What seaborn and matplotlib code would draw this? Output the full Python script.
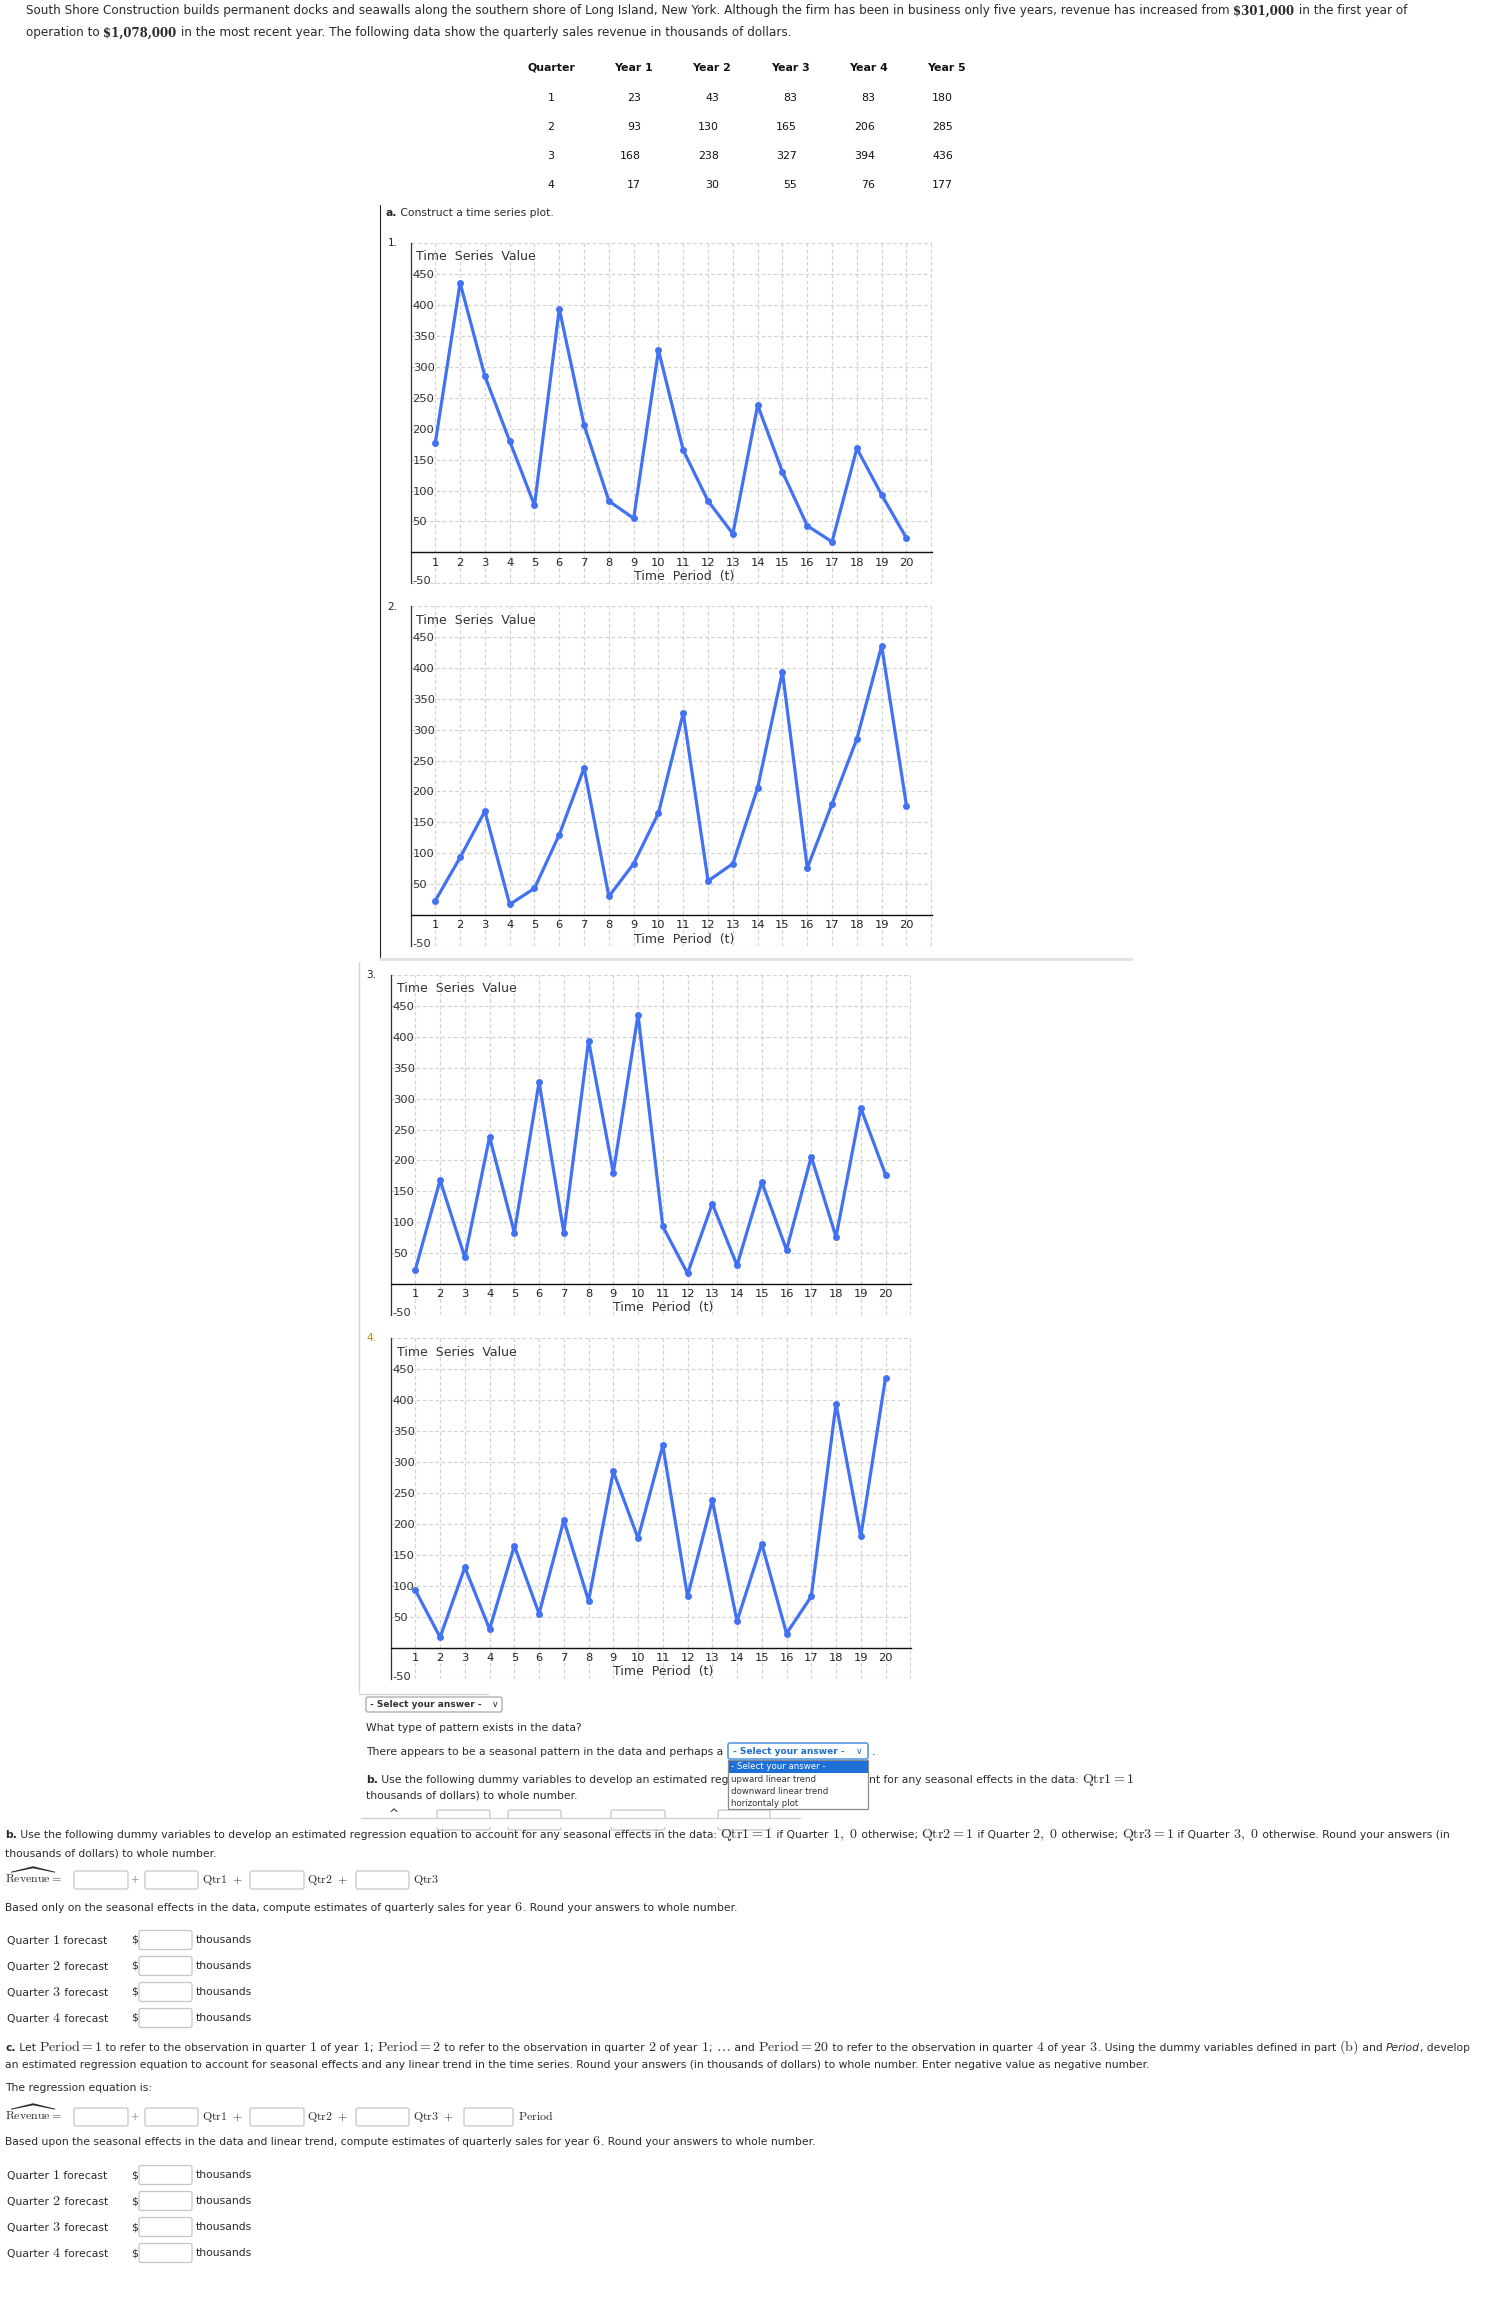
import numpy as np
import pandas as pd
import matplotlib
matplotlib.use("Agg")
import matplotlib.pyplot as plt
import seaborn as sns
from matplotlib.patches import FancyBboxPatch, Rectangle
from matplotlib.ticker import MultipleLocator, FixedLocator
from matplotlib.transforms import ScaledTranslation

# ---------------- data ----------------
quarters = [1, 2, 3, 4]
year_labels = ["Year 1", "Year 2", "Year 3", "Year 4", "Year 5"]
year1 = [23, 93, 168, 17]
year2 = [43, 130, 238, 30]
year3 = [83, 165, 327, 55]
year4 = [83, 206, 394, 76]
year5 = [180, 285, 436, 177]

periods = list(range(1, 21))
plot1_values = [177, 436, 285, 180, 76, 394, 206, 83, 55, 327, 165, 83, 30, 238, 130, 43, 17, 168, 93, 23]
plot2_values = [23, 93, 168, 17, 43, 130, 238, 30, 83, 165, 327, 55, 83, 206, 394, 76, 180, 285, 436, 177]
plot3_values = [23, 168, 43, 238, 83, 327, 83, 394, 180, 436, 93, 17, 130, 30, 165, 55, 206, 76, 285, 177]
plot4_values = [93, 17, 130, 30, 165, 55, 206, 76, 285, 177, 327, 83, 238, 43, 168, 23, 83, 394, 180, 436]

y_ticks = [-50, 0, 50, 100, 150, 200, 250, 300, 350, 400, 450, 500]
y_tick_labels = ["-50", "", "50", "100", "150", "200", "250", "300", "350", "400", "450", ""]
x_ticks = list(range(1, 22))
x_tick_labels = [str(i) for i in range(1, 21)] + [""]

dropdown_options = ["- Select your answer -", "upward linear trend", "downward linear trend", "horizontaly plot"]

# ---------------- setup ----------------
sns.set_style("white")
plt.rcParams["font.family"] = ["DejaVu Sans"]
plt.rcParams["mathtext.fontset"] = "cm"

W, H = 1490, 2297
fig = plt.figure(figsize=(W / 100, H / 100), dpi=100)
fig.patch.set_facecolor("white")
page = fig.add_axes([0, 0, 1, 1])
page.set_xlim(0, W)
page.set_ylim(H, 0)
page.axis("off")
renderer = fig.canvas.get_renderer()

BLUE = "#4271f2"
TXT = "#2a2a2a"
PT = 0.72  # px -> pt


def px_rect(l, t, r, b):
    return [l / W, 1 - b / H, (r - l) / W, (b - t) / H]


def text_w(s, kw):
    t = page.text(0, 0, s, **kw)
    w = t.get_window_extent(renderer).width
    t.remove()
    return w


def adv(s, kw):
    if s.startswith("$"):
        return text_w(s, kw)
    return text_w("|" + s + "|", kw) - text_w("||", kw)


MATHSCALE = 1.3


def runs(x, yc, parts, px, color=TXT):
    yb = yc + 0.36 * px
    cur = x
    for part in parts:
        if isinstance(part, str):
            s, st = part, ""
        else:
            s = part[0]
            st = part[1] if len(part) > 1 else ""
        kw = dict(fontsize=px * PT, color=color, ha="left", va="baseline")
        if "b" in st:
            kw["fontweight"] = "bold"
        if "i" in st:
            kw["fontstyle"] = "italic"
        if "s" in st:
            kw["family"] = "DejaVu Serif"
            kw["fontsize"] = px * PT * 0.98
        if "m" in st:
            kw["math_fontfamily"] = "cm"
            kw["fontsize"] = px * PT * MATHSCALE
        page.text(cur, yb, s, **kw)
        cur += adv(s, kw)
    return cur


def T(x, y, s, px, ha="left", va="center", color=TXT, weight="normal", z=4, **kw):
    return page.text(x, y, s, fontsize=px * PT, ha=ha, va=va, color=color,
                     fontweight=weight, zorder=z, **kw)


def box(l, t, r, b, ec="#c6c6c6", lw=0.9, fc="white", z=3, rs=2):
    page.add_patch(FancyBboxPatch((l, t), r - l, b - t,
                                  boxstyle=f"round,pad=0,rounding_size={rs}",
                                  fc=fc, ec=ec, lw=lw, zorder=z))


# ---------------- top paragraph ----------------
P1 = 12.0
runs(26, 10, ["South Shore Construction builds permanent docks and seawalls along the southern shore of Long Island, New York. Although the firm has been in business only five years, revenue has increased from ",
              ("$301,000", "sb"),
              " in the first year of"], P1)
runs(26, 32, ["operation to ", ("$1,078,000", "sb"),
              " in the most recent year. The following data show the quarterly sales revenue in thousands of dollars."], P1)

# ---------------- table ----------------
head_y = 68
row_y = [98, 127, 156, 185]
q_x = 551
head_x = [633, 712, 790, 868, 946]
right_x = [641, 719, 797, 875, 953]
T(q_x, head_y, "Quarter", 11, ha="center", weight="bold", color="#111")
for hx, lab in zip(head_x, year_labels):
    T(hx, head_y, lab, 11, ha="center", weight="bold", color="#111")
cols = [year1, year2, year3, year4, year5]
for i, q in enumerate(quarters):
    T(q_x, row_y[i], str(q), 11, ha="center", color="#111")
    for j, col in enumerate(cols):
        T(right_x[j], row_y[i], str(col[i]), 11, ha="right", color="#111")

# ---------------- part a heading ----------------
BP = 10.8
runs(386, 212, [("a.", "b"), " Construct a time series plot."], BP)

# overlay borders
page.plot([380, 380], [205, 957], color="#222222", lw=0.8, zorder=2)
page.plot([380, 1131], [958.5, 958.5], color="#e2e2e2", lw=2.2, zorder=2)
page.plot([359, 359], [962, 1692], color="#d6d6d6", lw=1.0, zorder=2)
page.plot([359, 488], [1694, 1694], color="#d6d6d6", lw=1.0, zorder=2)


# ---------------- plots ----------------
def make_plot(rect, values, num, num_xy, num_color):
    ax = fig.add_axes(px_rect(*rect))
    ax.set_facecolor("white")
    df = pd.DataFrame({"t": periods, "v": values})
    sns.lineplot(data=df, x="t", y="v", ax=ax, color=BLUE, linewidth=2.3,
                 marker="o", markersize=5, markeredgewidth=0, zorder=5)
    ax.set_xlim(0, 21.03)
    ax.set_ylim(-50.4, 500.4)
    ax.set_xlabel("")
    ax.set_ylabel("")
    ax.xaxis.set_major_locator(FixedLocator(x_ticks))
    ax.set_xticklabels(x_tick_labels)
    ax.xaxis.set_minor_locator(MultipleLocator(0.1))
    ax.yaxis.set_major_locator(FixedLocator(y_ticks))
    ax.set_yticklabels(y_tick_labels)
    ax.yaxis.set_minor_locator(MultipleLocator(10))
    ax.grid(True, which="major", color="#d3d3d3", linestyle=(0, (3, 2)), linewidth=0.9)
    ax.set_axisbelow(True)
    for s in ["top", "right"]:
        ax.spines[s].set_visible(False)
    ax.spines["bottom"].set_position(("data", 0))
    ax.spines["bottom"].set_color("#111111")
    ax.spines["bottom"].set_linewidth(1.0)
    ax.spines["left"].set_color("#333333")
    ax.spines["left"].set_linewidth(0.9)
    ax.tick_params(axis="x", which="major", direction="inout", length=5.5, width=0.8,
                   color="#111111", pad=1.0, labelsize=11.5 * PT, labelcolor="#222222")
    ax.tick_params(axis="x", which="minor", direction="inout", length=2.6, width=0.6, color="#222222")
    ax.tick_params(axis="y", which="major", direction="in", length=3, width=0.8,
                   color="#333333", pad=-1.5, labelsize=11.5 * PT, labelcolor="#333333")
    ax.tick_params(axis="y", which="minor", direction="in", length=2, width=0.6, color="#444444")
    for lab in ax.get_yticklabels():
        lab.set_horizontalalignment("left")
    ylabs = ax.get_yticklabels()
    ylabs[0].set_transform(ylabs[0].get_transform() + ScaledTranslation(0, 3 / 100, fig.dpi_scale_trans))
    wpx = rect[2] - rect[0]
    hpx = rect[3] - rect[1]
    ax.text(6 / wpx, 1 - 14 / hpx, "Time  Series  Value", transform=ax.transAxes,
            ha="left", va="center", fontsize=12.5 * PT, color="#333333")
    ax.text((684 - 410.5) / 521.5, 1 - 333 / 340, "Time  Period  (t)", transform=ax.transAxes,
            ha="center", va="center", fontsize=12.5 * PT, color="#333333")
    T(num_xy[0], num_xy[1], num, 10.5, ha="center", color=num_color)
    return ax


make_plot((410.5, 243, 932, 583.5), plot1_values, "1.", (392.5, 243), "#222222")
make_plot((410.5, 606, 932, 946), plot2_values, "2.", (392.5, 607), "#222222")
make_plot((390.6, 975, 911, 1315), plot3_values, "3.", (371, 975), "#222244")
make_plot((390.6, 1338, 911, 1679), plot4_values, "4.", (371, 1338), "#c8860a")

# ---------------- selects & pattern question ----------------
SP = 9.0
box(366, 1697, 502, 1712, ec="#a8a8a8", lw=0.9)
T(370, 1704.5, "- Select your answer -", SP, weight="bold", color="#333333")
T(492, 1704.5, "\u2228", SP, color="#333333")
T(366, 1728, "What type of pattern exists in the data?", BP)
T(366, 1752, "There appears to be a seasonal pattern in the data and perhaps a", BP)
box(728, 1743, 868, 1759, ec="#5a9bdc", lw=1.2)
T(733, 1751, "- Select your answer -", SP, weight="bold", color="#1f6fc8")
T(856, 1751, "\u2228", SP, color="#1f6fc8")
T(872, 1752, ".", BP)

runs(366, 1779, [("b.", "b"), " Use the following dummy variables to develop an estimated reg"], BP)
runs(869, 1779, ["nt for any seasonal effects in the data: ", (r"$\mathrm{Qtr1} = 1$", "m")], BP)
T(366, 1795, "thousands of dollars) to whole number.", BP)

# hidden row under overlay
T(394, 1815, "^", 12, ha="center", color="#333333")
for l, r in [(437, 490), (508, 561), (611, 665), (718, 770)]:
    box(l, 1810, r, 1830, z=2)
page.add_patch(Rectangle((360, 1817.5), 520, 9, fc="white", ec="none", zorder=2.5))
page.plot([361, 800], [1817.5, 1817.5], color="#d0d0d0", lw=1.0, zorder=2.6)

# dropdown list
page.add_patch(Rectangle((728, 1760), 140, 49, fc="white", ec="#8c8c8c", lw=0.9, zorder=6))
page.add_patch(Rectangle((728.5, 1760.5), 139, 12.5, fc="#1e6fd8", ec="none", zorder=6.5))
opt_y = [1766.5, 1779, 1791, 1803]
for k, (oy, opt) in enumerate(zip(opt_y, dropdown_options)):
    T(731, oy, opt, 8.6, color="white" if k == 0 else "#333333", z=7)

# ---------------- part b ----------------
runs(5, 1834, [("b.", "b"), " Use the following dummy variables to develop an estimated regression equation to account for any seasonal effects in the data: ",
               (r"$\mathrm{Qtr1} = 1$", "m"), " if Quarter ", (r"$1,\ 0$", "m"), " otherwise; ",
               (r"$\mathrm{Qtr2} = 1$", "m"), " if Quarter ", (r"$2,\ 0$", "m"), " otherwise; ",
               (r"$\mathrm{Qtr3} = 1$", "m"), " if Quarter ", (r"$3,\ 0$", "m"), " otherwise. Round your answers (in"], BP)
T(5, 1853, "thousands of dollars) to whole number.", BP)


def revenue_row(yc, with_period):
    runs(5, yc, [(r"$\widehat{\mathrm{Revenue}} =$", "m")], 9.2)
    box(74, yc - 9, 128, yc + 9)
    T(135, yc, "+", 10, ha="center", color="#999999")
    box(145, yc - 9, 198, yc + 9)
    runs(202, yc, [(r"$\mathrm{Qtr1}\ +$", "m")], 9.2)
    box(250, yc - 9, 304, yc + 9)
    runs(307, yc, [(r"$\mathrm{Qtr2}\ +$", "m")], 9.2)
    box(356, yc - 9, 409, yc + 9)
    if with_period:
        runs(413, yc, [(r"$\mathrm{Qtr3}\ +$", "m")], 9.2)
        box(464, yc - 9, 513, yc + 9)
        runs(518, yc, [(r"$\mathrm{Period}$", "m")], 9.2)
    else:
        runs(413, yc, [(r"$\mathrm{Qtr3}$", "m")], 9.2)


def forecast_rows(ys):
    for q, yc in zip(quarters, ys):
        runs(7, yc, ["Quarter ", (f"${q}$", "m"), " forecast"], BP)
        T(131, yc, "$", BP)
        box(139, yc - 9.5, 192, yc + 9.5)
        T(196, yc, "thousands", BP)


revenue_row(1880, False)
runs(5, 1907, ["Based only on the seasonal effects in the data, compute estimates of quarterly sales for year ", (r"$6$", "m"),
               ". Round your answers to whole number."], BP)
forecast_rows([1940, 1966, 1992, 2018])

# ---------------- part c ----------------
runs(5, 2047, [("c.", "b"), " Let ", (r"$\mathrm{Period} = 1$", "m"), " to refer to the observation in quarter ", (r"$1$", "m"),
               " of year ", (r"$1$", "m"), "; ", (r"$\mathrm{Period} = 2$", "m"), " to refer to the observation in quarter ",
               (r"$2$", "m"), " of year ", (r"$1$", "m"), "; ", (r"$\ldots$", "m"), " and ", (r"$\mathrm{Period} = 20$", "m"),
               " to refer to the observation in quarter ", (r"$4$", "m"), " of year ", (r"$3$", "m"),
               ". Using the dummy variables defined in part ", (r"$(\mathrm{b})$", "m"), " and ", ("Period", "i"), ", develop"], BP)
T(5, 2065, "an estimated regression equation to account for seasonal effects and any linear trend in the time series. Round your answers (in thousands of dollars) to whole number. Enter negative value as negative number.", BP)
T(5, 2088, "The regression equation is:", BP)
revenue_row(2117, True)
runs(5, 2141, ["Based upon the seasonal effects in the data and linear trend, compute estimates of quarterly sales for year ", (r"$6$", "m"),
               ". Round your answers to whole number."], BP)
forecast_rows([2175, 2201, 2227, 2253])

fig.savefig("out.png", dpi=100, facecolor="white")
